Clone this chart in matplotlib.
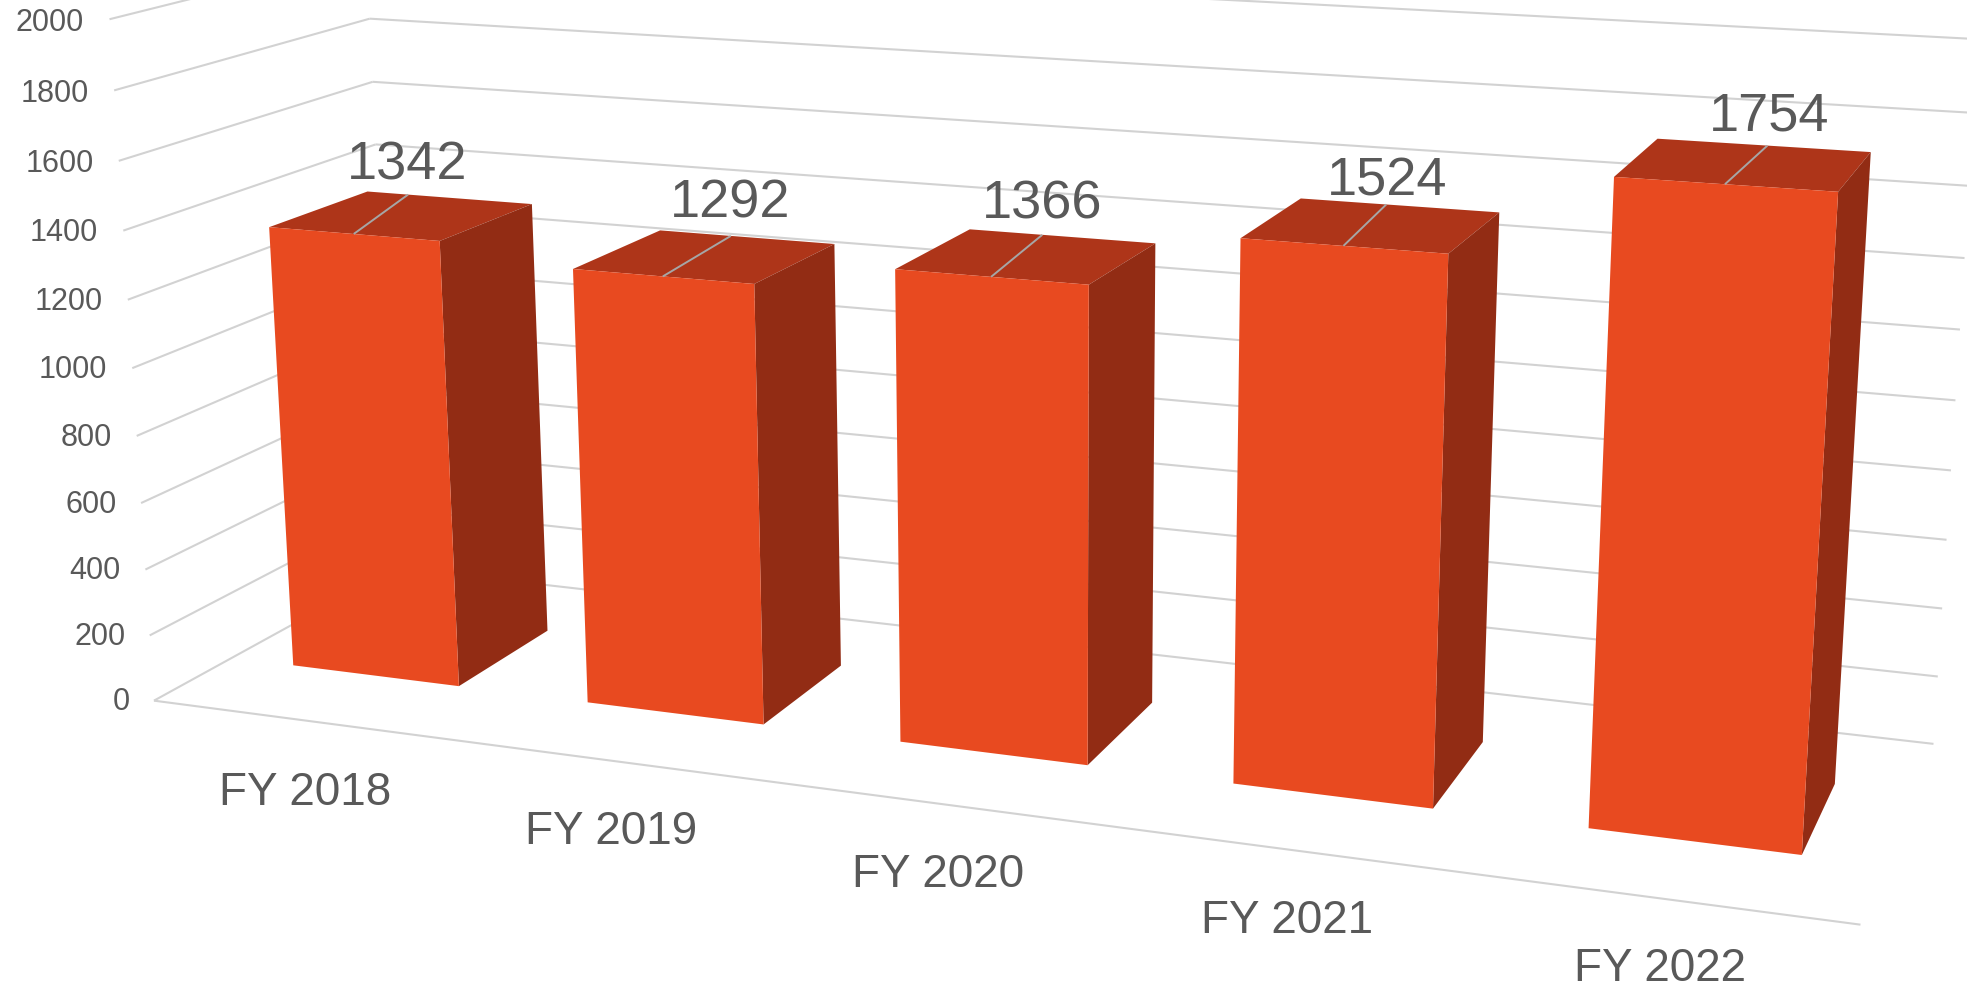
import numpy as np
import matplotlib
matplotlib.use("Agg")
import matplotlib.pyplot as plt
from mpl_toolkits.mplot3d.art3d import Line3DCollection

# chart data
categories = ["FY 2018", "FY 2019", "FY 2020", "FY 2021", "FY 2022"]
values = [1342, 1292, 1366, 1524, 1754]
z_ticks = [0, 200, 400, 600, 800, 1000, 1200, 1400, 1600, 1800, 2000]

# bar footprint inside a category cell (cell = 1 wide, floor = 1 deep)
GAP_X = 0.215
GAP_Y = 0.30

# where each leader line meets the back edge of its bar top, label lift above it,
# and how far each category label sits under the floor
leader_end = [0.25, 0.41, 0.395, 0.435, 0.52]
label_lift = [91, 97, 87, 64, 78]
category_drop = [222, 214, 207, 200, 190]

# colours
FRONT = "#E84A20"
TOP = "#AE3519"
SIDE = "#922C14"
GRID = "#D2D2D2"
LEADER = "#A6A6A6"
TEXT = "#595959"

# camera calibration: (category, depth, value) -> pixel, used to recover the
# perspective of the original 3D chart
cal_world = [
    (0, 0, 2000), (0, 0, 1800), (0, 0, 1600), (0, 0, 1400), (0, 0, 1200), (0, 0, 1000),
    (0, 0, 800), (0, 0, 600), (0, 0, 400), (0, 0, 200), (0, 0, 0),
    (0, 1, 1800), (0, 1, 1600), (0, 1, 1400), (5, 0, 0),
    (5, 1, 0), (5, 1, 200), (5, 1, 400), (5, 1, 600), (5, 1, 800), (5, 1, 1000), (5, 1, 1200), (5, 1, 1400),
    (GAP_X, GAP_Y, 1342), (1 - GAP_X, GAP_Y, 1342), (1 - GAP_X, 1 - GAP_Y, 1342), (GAP_X, 1 - GAP_Y, 1342),
    (GAP_X, GAP_Y, 0), (1 - GAP_X, GAP_Y, 0), (1 - GAP_X, 1 - GAP_Y, 0),
    (4 + GAP_X, GAP_Y, 1754), (5 - GAP_X, GAP_Y, 1754), (5 - GAP_X, 1 - GAP_Y, 1754), (4 + GAP_X, 1 - GAP_Y, 1754),
    (4 + GAP_X, GAP_Y, 0), (5 - GAP_X, GAP_Y, 0), (5 - GAP_X, 1 - GAP_Y, 0),
]
cal_pixel = [
    (109.5, 19.7), (113.9, 90.7), (118.6, 161), (123.4, 230.7), (127.7, 300), (131.7, 368.3),
    (136.4, 436), (140.8, 503), (145, 569.7), (149.5, 635.3), (154, 700),
    (369, 19), (372.5, 81.3), (375.6, 144.3), (1861, 924),
    (1933.3, 744.6), (1937.7, 676.4), (1942.3, 608.6), (1946.7, 539.7), (1951, 470), (1955.5, 400), (1960, 329.3), (1964.3, 257.7),
    (269.7, 227.3), (440.9, 240.7), (532.6, 204), (367.7, 191.7),
    (293.4, 665), (459.5, 685.7), (547.6, 630.7),
    (1614.3, 176.7), (1837.7, 191), (1870.7, 152.3), (1657.7, 139),
    (1588.3, 829), (1801.7, 855), (1834.3, 785),
]


def fit_camera(world, pixel):
    """Plain DLT, returns a 3x4 matrix world -> pixel."""
    rows = []
    for (x, y, z), (u, v) in zip(world, pixel):
        p = [x, y, z / 1000, 1]
        u, v = u / 1000, v / 1000
        rows.append(p + [0, 0, 0, 0] + [-u * c for c in p])
        rows.append([0, 0, 0, 0] + p + [-v * c for c in p])
    P = np.linalg.svd(np.array(rows))[2][-1].reshape(3, 4)
    P[:, 2] /= 1000
    P[:2] *= 1000
    return P


W, H = 1967, 984
fig = plt.figure(figsize=(W / 100, H / 100), dpi=100)
# mplot3d keeps its axes square, so let it run past the figure top and bottom
ax = fig.add_axes([0, -0.5, 1, 2], projection="3d")
ax.set_axis_off()
ax.computed_zorder = False
fig.canvas.draw()

P = fit_camera(cal_world, cal_pixel)
inv = ax.transData.inverted()
x0, y0 = inv.transform((0, H))
x1, y1 = inv.transform((W, 0))
to_view = np.array([[(x1 - x0) / W, 0, x0], [0, (y1 - y0) / H, y0], [0, 0, 1]])
Q = to_view @ P
M = np.array([Q[0], Q[1], [0, Q[2, 3], 0, 0], Q[2]])
ax.get_proj = lambda: M

# wall and floor gridlines
n = len(categories)
grid_segs = [[(0, 0, 0), (n, 0, 0)]]
for z in z_ticks:
    grid_segs.append([(0, 0, z), (0, 1, z)])
    grid_segs.append([(0, 1, z), (n, 1, z)])
ax.add_collection3d(Line3DCollection(grid_segs, colors=GRID, linewidths=1.5, zorder=1))

# bars, hidden faces stay transparent (order: -z +z -y +y -x +x)
clear = (0, 0, 0, 0)
bar_x = [i + GAP_X for i in range(n)]
bar_w = 1 - 2 * GAP_X
face_colors = [clear, TOP, FRONT, clear, clear, SIDE] * n
ax.bar3d(bar_x, [GAP_Y] * n, [0] * n, bar_w, 1 - 2 * GAP_Y, values,
         color=face_colors, shade=False, linewidth=0, zorder=2)

# data labels with their leader lines
leader_segs = []
for i, v in enumerate(values):
    end_x = bar_x[i] + leader_end[i] * bar_w
    leader_segs.append([(i + 0.5, GAP_Y, v), (end_x, 1 - GAP_Y, v)])
    ax.text(end_x, 1 - GAP_Y, v + label_lift[i], str(v), color=TEXT, fontsize=39,
            family="Liberation Sans", ha="center", va="center", zorder=4)
ax.add_collection3d(Line3DCollection(leader_segs, colors=LEADER, linewidths=1.4, zorder=3))

# value axis labels
for z in z_ticks:
    ax.text(-0.085, 0, z - 14, str(z), color=TEXT, fontsize=22, family="Liberation Sans",
            ha="right", va="center", zorder=4)

# category labels
for i, c in enumerate(categories):
    ax.text(i + 0.5, 0, -category_drop[i], c, color=TEXT, fontsize=33, family="Liberation Sans",
            ha="center", va="center", zorder=4)

fig.savefig("out.png", dpi=100, facecolor="white")
